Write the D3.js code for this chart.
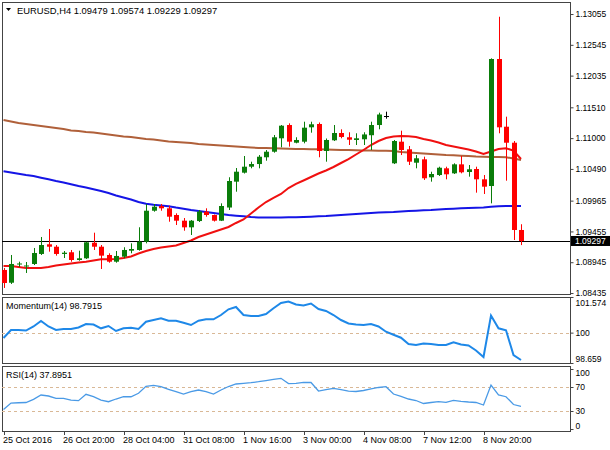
<!DOCTYPE html>
<html>
<head>
<meta charset="utf-8">
<script src="https://cdn.jsdelivr.net/npm/d3@7"></script>
<style>
  body { margin: 0; background: #fff; }
  text { font-family: "Liberation Sans", Arial, sans-serif; fill: #000; }
</style>
</head>
<body>
<div id="chart"></div>
<script>
// EURUSD H4 candles, 25 Oct - 9 Nov 2016
const opens = [1.08817,1.08606,1.08908,1.08875,1.08916,1.09082,1.09242,1.09202,1.09082,1.09110,
  1.08982,1.09010,1.09268,1.09202,1.09065,1.08954,1.09037,1.09136,1.09148,1.09285,
  1.09798,1.09876,1.09838,1.09727,1.09633,1.09523,1.09627,1.09782,1.09727,1.09633,
  1.09851,1.10279,1.10428,1.10527,1.10571,1.10683,1.10775,1.10997,1.11217,1.10924,
  1.10941,1.11179,1.11234,1.10787,1.10964,1.11085,1.11014,1.10969,1.10981,1.11048,
  1.11217,1.11366,1.10583,1.10941,1.10815,1.10593,1.10649,1.10351,1.10389,1.10500,
  1.10417,1.10566,1.10439,1.10489,1.10318,1.10207,1.12310,1.11189,1.10924,1.09479];
const highs = [1.08850,1.09065,1.08954,1.08949,1.09181,1.09363,1.09495,1.09230,1.09131,1.09148,
  1.09136,1.09285,1.09434,1.09230,1.09093,1.09131,1.09193,1.09258,1.09524,1.09909,
  1.09909,1.09909,1.09881,1.09755,1.09677,1.09644,1.09810,1.09838,1.09735,1.09920,
  1.10352,1.10505,1.10704,1.10610,1.10720,1.10803,1.11052,1.11217,1.11245,1.11014,
  1.11272,1.11272,1.11259,1.10994,1.11217,1.11146,1.11097,1.11080,1.11097,1.11272,
  1.11421,1.11438,1.10969,1.11123,1.10870,1.10720,1.10693,1.10444,1.10527,1.10527,
  1.10583,1.10704,1.10555,1.10527,1.10389,1.12321,1.13010,1.11355,1.10952,1.09574];
const lows = [1.08519,1.08585,1.08866,1.08767,1.08899,1.09065,1.09120,1.09054,1.09015,1.08954,
  1.08970,1.08999,1.09148,1.08833,1.08937,1.08937,1.09010,1.09093,1.09136,1.09258,
  1.09782,1.09798,1.09616,1.09561,1.09467,1.09396,1.09611,1.09699,1.09619,1.09627,
  1.09810,1.10113,1.10414,1.10500,1.10500,1.10626,1.10759,1.10848,1.10859,1.10914,
  1.10914,1.11090,1.10683,1.10610,1.10952,1.10997,1.10886,1.10886,1.10886,1.10803,
  1.11146,1.11322,1.10571,1.10720,1.10555,1.10500,1.10307,1.10279,1.10373,1.10318,
  1.10406,1.10417,1.10362,1.10097,1.10075,1.09920,1.11080,1.10295,1.09313,1.09229];
const closes = [1.08601,1.08916,1.08924,1.08891,1.09098,1.09230,1.09202,1.09082,1.09103,1.08982,
  1.09010,1.09275,1.09202,1.09054,1.08954,1.09049,1.09148,1.09164,1.09285,1.09798,
  1.09865,1.09838,1.09699,1.09633,1.09523,1.09633,1.09785,1.09727,1.09633,1.09876,
  1.10290,1.10444,1.10527,1.10571,1.10692,1.10775,1.11014,1.11206,1.10941,1.10969,
  1.11173,1.11229,1.10787,1.10969,1.11085,1.11019,1.10974,1.10997,1.11061,1.11217,
  1.11391,1.11366,1.10952,1.10803,1.10610,1.10666,1.10335,1.10406,1.10510,1.10401,
  1.10566,1.10434,1.10484,1.10318,1.10196,1.12310,1.11179,1.10924,1.09479,1.09297];

// moving averages
const maRed = [1.08883,1.08883,1.08866,1.08850,1.08850,1.08850,1.08866,1.08891,1.08908,1.08924,
  1.08941,1.08954,1.08974,1.08994,1.08995,1.08999,1.09015,1.09040,1.09090,1.09131,
  1.09164,1.09189,1.09206,1.09222,1.09264,1.09305,1.09363,1.09404,1.09446,1.09487,
  1.09529,1.09595,1.09653,1.09752,1.09851,1.09942,1.10009,1.10075,1.10174,1.10241,
  1.10298,1.10356,1.10414,1.10464,1.10522,1.10588,1.10654,1.10729,1.10803,1.10886,
  1.10952,1.11002,1.11027,1.11035,1.11030,1.11019,1.10986,1.10961,1.10928,1.10886,
  1.10861,1.10837,1.10812,1.10779,1.10737,1.10779,1.10820,1.10832,1.10795,1.10654];
const maBrown = [1.11300,1.11275,1.11250,1.11234,1.11217,1.11201,1.11184,1.11168,1.11151,1.11126,
  1.11118,1.11101,1.11093,1.11077,1.11060,1.11043,1.11027,1.11019,1.11002,1.10986,
  1.10977,1.10961,1.10944,1.10936,1.10928,1.10919,1.10903,1.10894,1.10886,1.10878,
  1.10870,1.10861,1.10853,1.10845,1.10837,1.10837,1.10832,1.10828,1.10823,1.10820,
  1.10820,1.10817,1.10815,1.10812,1.10808,1.10803,1.10803,1.10800,1.10795,1.10795,
  1.10792,1.10792,1.10787,1.10770,1.10762,1.10754,1.10746,1.10737,1.10729,1.10721,
  1.10716,1.10709,1.10704,1.10696,1.10692,1.10688,1.10688,1.10683,1.10663,1.10638];
const maBlue = [1.10452,1.10431,1.10411,1.10390,1.10373,1.10345,1.10318,1.10290,1.10265,1.10237,
  1.10207,1.10183,1.10153,1.10125,1.10091,1.10050,1.10017,1.09984,1.09942,1.09913,
  1.09896,1.09885,1.09873,1.09851,1.09832,1.09810,1.09793,1.09777,1.09760,1.09744,
  1.09727,1.09716,1.09706,1.09694,1.09686,1.09686,1.09686,1.09686,1.09689,1.09689,
  1.09694,1.09699,1.09706,1.09711,1.09719,1.09727,1.09736,1.09744,1.09752,1.09760,
  1.09769,1.09774,1.09777,1.09785,1.09793,1.09798,1.09805,1.09810,1.09818,1.09826,
  1.09831,1.09838,1.09843,1.09846,1.09851,1.09863,1.09871,1.09876,1.09876,1.09876];

const momentum = [99.763,100.116,100.116,100.094,100.271,100.514,100.271,100.116,100.161,100.161,
  100.227,100.381,100.359,100.191,100.293,100.072,100.191,100.218,100.161,100.483,
  100.558,100.633,100.527,100.527,100.439,100.337,100.527,100.589,100.589,100.779,
  101.031,101.132,100.779,100.735,100.735,100.823,101.075,101.309,101.375,101.243,
  101.199,101.287,101.044,100.956,100.779,100.558,100.403,100.359,100.337,100.381,
  100.271,100.041,99.909,99.776,99.498,99.454,99.520,99.498,99.454,99.454,
  99.573,99.476,99.432,99.211,98.924,100.757,100.191,100.103,99.012,98.7915];
const rsi = [32.5,43.3,43.8,44.2,49.5,56.7,55.0,51.2,51.2,48.3,
  47.2,57.8,53.8,48.3,45.5,50.0,53.8,53.8,59.5,71.2,
  72.8,70.5,66.2,62.2,58.3,62.2,65.0,62.2,58.3,65.0,
  70.8,75.0,76.2,77.2,78.8,80.8,82.8,84.5,75.8,76.2,
  77.8,77.5,63.3,65.8,67.8,65.8,63.3,62.5,64.2,66.7,
  69.2,70.5,58.3,54.2,50.0,47.5,42.5,44.2,45.5,44.5,
  47.8,46.2,45.0,44.2,40.0,73.3,56.7,53.8,40.8,37.8951];

const timeLabels = ["25 Oct 2016","26 Oct 20:00","28 Oct 04:00","31 Oct 08:00","1 Nov 16:00",
  "3 Nov 00:00","4 Nov 08:00","7 Nov 12:00","8 Nov 20:00"];
const priceTicks = [1.13055,1.12545,1.12035,1.11510,1.11000,1.10490,1.09965,1.09455,1.08945,1.08435];
const momTicks = [101.574, 100, 98.659];
const rsiTicks = [100, 70, 30, 0];
const momLevels = [100];
const rsiLevels = [70, 30];

const width = 610, height = 450;
const left = 2, right = 570;
const main = {top: 2, bottom: 294};
const momP = {top: 297, bottom: 363};
const rsiP = {top: 366, bottom: 431};
const last = closes.length - 1;

const svg = d3.select("#chart").append("svg")
  .attr("width", width)
  .attr("height", height);

const x = d3.scaleLinear().domain([0, last]).range([3.5, 521]);
const yMain = d3.scaleLinear().domain([1.08419, 1.13254]).range([main.bottom, main.top]);
const yMom = d3.scaleLinear().domain([98.659, 101.574]).range([momP.bottom, momP.top]);
const yRsi = d3.scaleLinear().domain([-3.3, 105]).range([rsiP.bottom, rsiP.top]);

// clip each panel
const defs = svg.append("defs");
[["clipMain", main], ["clipMom", momP], ["clipRsi", rsiP]].forEach(([id, p]) => {
  defs.append("clipPath").attr("id", id)
    .append("rect")
    .attr("x", left).attr("y", p.top)
    .attr("width", right - left).attr("height", p.bottom - p.top);
});

// panel frames
[main, momP, rsiP].forEach(p => {
  svg.append("rect")
    .attr("x", left + 0.5).attr("y", p.top + 0.5)
    .attr("width", right - left).attr("height", p.bottom - p.top)
    .attr("fill", "none")
    .attr("stroke", "#444")
    .attr("stroke-width", 1);
});

// ---- main panel ----
const gMain = svg.append("g").attr("clip-path", "url(#clipMain)");

const line = (scale) => d3.line().x((d, i) => x(i)).y(d => scale(d));

gMain.append("path").datum(maBlue)
  .attr("fill", "none").attr("stroke", "#1515e6").attr("stroke-width", 2)
  .attr("d", line(yMain));
gMain.append("path").datum(maBrown)
  .attr("fill", "none").attr("stroke", "#b0603a").attr("stroke-width", 2)
  .attr("d", line(yMain));
gMain.append("path").datum(maRed)
  .attr("fill", "none").attr("stroke", "#f01010").attr("stroke-width", 2)
  .attr("d", line(yMain));

// current price line
gMain.append("line")
  .attr("x1", left).attr("x2", right)
  .attr("y1", Math.round(yMain(closes[last])) + 0.5)
  .attr("y2", Math.round(yMain(closes[last])) + 0.5)
  .attr("stroke", "#000").attr("stroke-width", 1);

const candleColor = i => opens[i] === closes[i] ? "#000"
  : (closes[i] > opens[i] ? "#0a7d0a" : "#ff0000");

const candle = gMain.selectAll("g.candle")
  .data(d3.range(closes.length))
  .enter()
  .append("g")
  .attr("class", "candle");

candle.append("line")
  .attr("x1", i => Math.round(x(i)) + 0.5)
  .attr("x2", i => Math.round(x(i)) + 0.5)
  .attr("y1", i => yMain(highs[i]))
  .attr("y2", i => yMain(lows[i]))
  .attr("stroke", candleColor)
  .attr("stroke-width", 1);

candle.append("rect")
  .attr("x", i => Math.round(x(i)) - 2)
  .attr("width", 5)
  .attr("y", i => yMain(Math.max(opens[i], closes[i])))
  .attr("height", i => Math.max(1, yMain(Math.min(opens[i], closes[i])) - yMain(Math.max(opens[i], closes[i]))))
  .attr("fill", candleColor);

// header
svg.append("path")
  .attr("d", "M6,8 L11,8 L8.5,11 Z")
  .attr("fill", "#000");
svg.append("text")
  .attr("x", 17).attr("y", 13.5)
  .style("font-size", "9.4px")
  .text(`EURUSD,H4  ${opens[last].toFixed(5)} ${highs[last].toFixed(5)} ${lows[last].toFixed(5)} ${closes[last].toFixed(5)}`);

// price axis
const axisMain = svg.append("g")
  .attr("transform", `translate(${right + 0.5},0)`)
  .call(d3.axisRight(yMain).tickValues(priceTicks).tickSize(3).tickPadding(2)
    .tickFormat(d3.format(".5f")));
axisMain.select(".domain").remove();
axisMain.selectAll("text").style("font-size", "8.5px")
  .attr("font-family", "Liberation Sans, Arial, sans-serif");

// current price box
svg.append("rect")
  .attr("x", right + 1).attr("y", yMain(closes[last]) - 5)
  .attr("width", width - right - 1).attr("height", 10)
  .attr("fill", "#000");
svg.append("text")
  .attr("x", right + 5).attr("y", yMain(closes[last]) + 3.5)
  .style("font-size", "8.5px").style("fill", "#fff")
  .text(closes[last].toFixed(5));

// ---- momentum panel ----
const gMom = svg.append("g").attr("clip-path", "url(#clipMom)");
gMom.selectAll("line.level")
  .data(momLevels).enter().append("line")
  .attr("x1", left).attr("x2", right)
  .attr("y1", d => Math.round(yMom(d)) + 0.5).attr("y2", d => Math.round(yMom(d)) + 0.5)
  .attr("stroke", "#d9b896").attr("stroke-dasharray", "3,3");
gMom.append("path").datum(momentum)
  .attr("fill", "none").attr("stroke", "#1e88e8").attr("stroke-width", 2)
  .attr("d", line(yMom));

svg.append("text")
  .attr("x", 6).attr("y", 308.5)
  .style("font-size", "9px")
  .text(`Momentum(14) ${momentum[last].toFixed(4)}`);

const axisMom = svg.append("g")
  .attr("transform", `translate(${right + 0.5},0)`)
  .call(d3.axisRight(yMom).tickValues(momTicks).tickSize(3).tickPadding(2)
    .tickFormat(d => d === 100 ? "100" : d3.format(".3f")(d)));
axisMom.select(".domain").remove();
axisMom.selectAll("text").style("font-size", "8.5px")
  .attr("dy", d => d === momTicks[0] ? "0.95em" : (d === momTicks[2] ? "-0.2em" : "0.32em"));

// ---- RSI panel ----
const gRsi = svg.append("g").attr("clip-path", "url(#clipRsi)");
gRsi.selectAll("line.level")
  .data(rsiLevels).enter().append("line")
  .attr("x1", left).attr("x2", right)
  .attr("y1", d => Math.round(yRsi(d)) + 0.5).attr("y2", d => Math.round(yRsi(d)) + 0.5)
  .attr("stroke", "#d9b896").attr("stroke-dasharray", "3,3");
gRsi.append("path").datum(rsi)
  .attr("fill", "none").attr("stroke", "#4a9ae6").attr("stroke-width", 1.3)
  .attr("d", line(yRsi));

svg.append("text")
  .attr("x", 6).attr("y", 377.5)
  .style("font-size", "9px")
  .text(`RSI(14) ${rsi[last].toFixed(4)}`);

const axisRsi = svg.append("g")
  .attr("transform", `translate(${right + 0.5},0)`)
  .call(d3.axisRight(yRsi).tickValues(rsiTicks).tickSize(3).tickPadding(2));
axisRsi.select(".domain").remove();
axisRsi.selectAll("text").style("font-size", "8.5px")
  .attr("dy", d => d === 100 ? "0.75em" : (d === 0 ? "-0.1em" : "0.32em"));

// ---- time axis ----
const timeIdx = timeLabels.map((t, k) => k * 8);
const gTime = svg.append("g");
gTime.selectAll("line")
  .data(timeIdx).enter().append("line")
  .attr("x1", i => Math.round(x(i)) + 0.5).attr("x2", i => Math.round(x(i)) + 0.5)
  .attr("y1", rsiP.bottom).attr("y2", rsiP.bottom + 4)
  .attr("stroke", "#444");
gTime.selectAll("text")
  .data(timeIdx).enter().append("text")
  .attr("x", i => x(i) - 0.5)
  .attr("y", 443)
  .style("font-size", "9px")
  .text((i, k) => timeLabels[k]);

svg.selectAll(".tick line").attr("stroke", "#444");
</script>
</body>
</html>
